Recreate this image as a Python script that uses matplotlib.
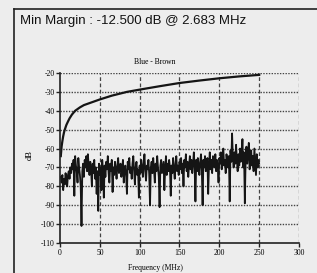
import matplotlib
matplotlib.use("Agg")
import matplotlib.pyplot as plt
from matplotlib.lines import Line2D

# ---- data ----
title_text = "Min Margin : -12.500 dB @ 2.683 MHz"
pair_name = "Blue - Brown"
x_label = "Frequency (MHz)"
y_label = "dB"
x_ticks = [0, 50, 100, 150, 200, 250, 300]
y_ticks = [-20, -30, -40, -50, -60, -70, -80, -90, -100, -110]

limit_freq = [1, 1.5, 2, 3, 4, 5, 6, 8, 10, 12, 15, 19, 25, 30, 40, 50, 65, 84, 100,
              125, 150, 175, 200, 225, 250]
limit_db = [-64, -61.5, -59, -56, -53.5, -51.5, -50, -47.5, -45.7, -44, -42, -40, -38.2,
            -37, -35.5, -34, -32, -30, -28.8, -27, -25.3, -24, -22.8, -21.8, -21]

meas_freq = list(range(1, 251))
meas_db = [
    -75, -78, -74, -82, -76, -79, -73, -77, -80, -74, -72, -76, -70, -73, -68, -71, -66, -85, -64, -69, -72, -78, -65, -70, -74,
    -80, -101, -72, -68, -75, -66, -70, -64, -72, -63, -69, -74, -67, -71, -80, -68, -73, -66, -76, -70, -84, -72, -93, -68, -74,
    -70, -82, -66, -72, -86, -69, -75, -67, -71, -64, -73, -78, -68, -72, -66, -83, -70, -74, -67, -71, -76, -69, -65, -73, -70,
    -68, -75, -71, -66, -78, -72, -69, -74, -84, -67, -71, -65, -73, -70, -76, -68, -64, -72, -79, -70, -67, -74, -71, -86, -69,
    -73, -66, -70, -75, -68, -63, -72, -77, -69, -71, -66, -74, -90, -70, -67, -73, -65, -71, -78, -68, -72, -64, -70, -75, -91,
    -69, -66, -73, -70, -67, -82, -71, -64, -74, -68, -72, -66, -70, -85, -69, -73, -65, -71, -76, -68, -64, -72, -69, -74, -67,
    -71, -65, -73, -68, -80, -66, -70, -63, -72, -67, -75, -69, -64, -71, -66, -73, -68, -62, -70, -88, -66, -72, -65, -69, -74,
    -67, -63, -71, -90, -66, -70, -64, -72, -68, -65, -84, -69, -62, -71, -66, -73, -64, -68, -70, -63, -72, -66, -69, -78, -65,
    -68, -62, -71, -65, -60, -69, -66, -73, -63, -67, -70, -64, -88, -61, -67, -52, -65, -70, -62, -68, -58, -66, -72, -63, -69,
    -60, -67, -64, -55, -70, -62, -89, -66, -59, -68, -63, -57, -71, -65, -61, -69, -64, -72, -60, -67, -74, -63, -70, -66, -68,
]

W, H = 317, 273
bg = "#ededed"
fig = plt.figure(figsize=(W / 100, H / 100), dpi=100, facecolor=bg)

# outer frame lines
fig.add_artist(Line2D([14 / W, 14 / W], [0, 1 - 9 / H], transform=fig.transFigure, color="#222222", lw=1.2))
fig.add_artist(Line2D([14 / W, 1], [1 - 9 / H, 1 - 9 / H], transform=fig.transFigure, color="#222222", lw=1.2))

fig.text(20 / W, 1 - 21 / H, title_text, fontsize=9.5, family="Liberation Sans",
         ha="left", va="center", color="#111111")

ax = fig.add_axes([60 / W, 30 / H, 239 / W, 170 / H])
ax.set_facecolor(bg)

ax.plot(meas_freq, meas_db, color="#151515", lw=1.3)
ax.plot(limit_freq, limit_db, color="#151515", lw=1.6)

ax.set_xlim(0, 300)
ax.set_ylim(-110, -20)
ax.set_xticks(x_ticks)
ax.set_yticks(y_ticks)
ax.set_xticklabels([str(v) for v in x_ticks], family="Liberation Serif", fontsize=5.5)
ax.set_yticklabels([str(v) for v in y_ticks], family="Liberation Serif", fontsize=5.5)
ax.tick_params(axis="both", length=3, width=1, color="#222222", pad=1)

for y in y_ticks[:-1]:
    ax.axhline(y, color="#444444", lw=1.0, ls=(0, (1, 1)), zorder=0)
for x in x_ticks[1:]:
    ax.axvline(x, color="#444444", lw=0.9, ls=(0, (3, 2)), zorder=0)

for s in ["top", "right"]:
    ax.spines[s].set_visible(False)
for s in ["left", "bottom"]:
    ax.spines[s].set_color("#222222")
    ax.spines[s].set_linewidth(1.2)

fig.text(155 / W, 1 - 62 / H, pair_name, family="Liberation Serif", fontsize=5.5,
         ha="center", va="center")
fig.text(155 / W, 1 - 268 / H, x_label, family="Liberation Serif", fontsize=5.5,
         ha="center", va="center")
fig.text(30 / W, 1 - 155 / H, y_label, family="Liberation Serif", fontsize=6,
         ha="center", va="center", rotation=90)

fig.savefig("out.png", dpi=100, facecolor=bg)
